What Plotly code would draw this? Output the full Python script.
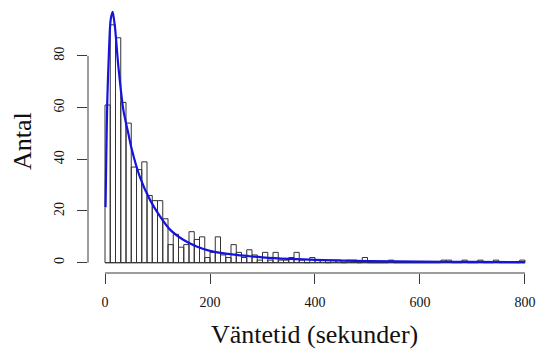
import plotly.graph_objects as go

# Histogram of waiting times, 10-second bins from 0 to 800 s
BIN_WIDTH = 10
bin_left = list(range(0, 800, BIN_WIDTH))
counts = [
    61, 92, 87, 62, 54, 37, 36, 39, 26, 24,   # 0-100
    24, 17, 7, 11, 6, 7, 12, 9, 10, 2,        # 100-200
    4, 10, 3, 2, 7, 4, 2, 5, 3, 1,            # 200-300
    4, 1, 4, 1, 1, 2, 4, 1, 0, 2,             # 300-400
    1, 1, 0, 1, 1, 0, 1, 1, 0, 2,             # 400-500
    0, 0, 0, 0, 1, 0, 0, 0, 0, 0,             # 500-600
    0, 0, 0, 0, 1, 1, 0, 0, 1, 0,             # 600-700
    0, 1, 0, 0, 1, 0, 0, 0, 0, 1,             # 700-800
]

# Fitted density, scaled to counts
curve_x = [1, 2.5, 4.4, 7.6, 10.8, 14.6, 19, 25.4, 35, 44.4, 50.8, 66.7, 85.7,
           104.8, 123.8, 149, 174.6, 200, 250, 300, 350, 400, 500, 600, 700, 800]
curve_y = [21.5, 42, 63, 82, 94, 97, 91, 76, 59, 50, 44, 33, 24.3,
           17.9, 12.8, 8.9, 6.3, 4.6, 3.0, 2.1, 1.5, 1.1, 0.65, 0.45, 0.32, 0.25]

x_ticks = [0, 200, 400, 600, 800]
y_ticks = [0, 20, 40, 60, 80]

SERIF = "Liberation Serif, Times New Roman, serif"
AXIS_COLOR = "#3a3a3a"

fig = go.Figure()

fig.add_trace(go.Bar(
    x=bin_left,
    y=counts,
    width=BIN_WIDTH,
    offset=0,
    marker=dict(color="rgba(255,255,255,0)",
                line=dict(color="#333333", width=1)),
    hoverinfo="skip",
))

fig.add_trace(go.Scatter(
    x=curve_x,
    y=curve_y,
    mode="lines",
    line=dict(color="#1414dc", width=2.2, shape="spline", smoothing=0.8),
    hoverinfo="skip",
))

shapes = [
    # baseline under empty bins
    dict(type="line", xref="x", yref="y",
         x0=bin_left[0], x1=bin_left[-1] + BIN_WIDTH, y0=0, y1=0,
         line=dict(color="#333333", width=1), layer="below"),
    # x axis line between first and last tick
    dict(type="line", xref="x", yref="paper",
         x0=x_ticks[0], x1=x_ticks[-1], y0=0, y1=0,
         line=dict(color=AXIS_COLOR, width=1)),
    # y axis line between first and last tick
    dict(type="line", xref="paper", yref="y",
         x0=0, x1=0, y0=y_ticks[0], y1=y_ticks[-1],
         line=dict(color=AXIS_COLOR, width=1)),
]

annotations = [
    dict(text="Väntetid (sekunder)", xref="x", yref="paper",
         x=400, y=0, yanchor="middle", xanchor="center", yshift=-61,
         showarrow=False, font=dict(family=SERIF, size=26, color="#111")),
    dict(text="Antal", xref="paper", yref="paper",
         x=0, y=(273 - 141) / 273, xanchor="center", yanchor="middle",
         xshift=-65, textangle=-90,
         showarrow=False, font=dict(family=SERIF, size=26, color="#111")),
]

fig.update_layout(
    width=537, height=349,
    margin=dict(l=88, r=0, t=0, b=76, pad=0),
    paper_bgcolor="white", plot_bgcolor="white",
    showlegend=False,
    shapes=shapes,
    annotations=annotations,
    xaxis=dict(
        range=[-32.4, 822.9],
        tickmode="array", tickvals=x_ticks, ticktext=[str(v) for v in x_ticks],
        ticks="outside", ticklen=10, tickwidth=1, tickcolor=AXIS_COLOR,
        showline=False, showgrid=False, zeroline=False,
        tickfont=dict(family=SERIF, size=14, color="#111"),
        ticklabelstandoff=6,
    ),
    yaxis=dict(
        range=[-3.98, 101.6],
        tickmode="array", tickvals=y_ticks, ticktext=[str(v) for v in y_ticks],
        ticks="outside", ticklen=10, tickwidth=1, tickcolor=AXIS_COLOR,
        showline=False, showgrid=False, zeroline=False,
        tickangle=-90,
        tickfont=dict(family=SERIF, size=14, color="#111"),
        ticklabelstandoff=7,
    ),
)

fig.write_html("out.html")
